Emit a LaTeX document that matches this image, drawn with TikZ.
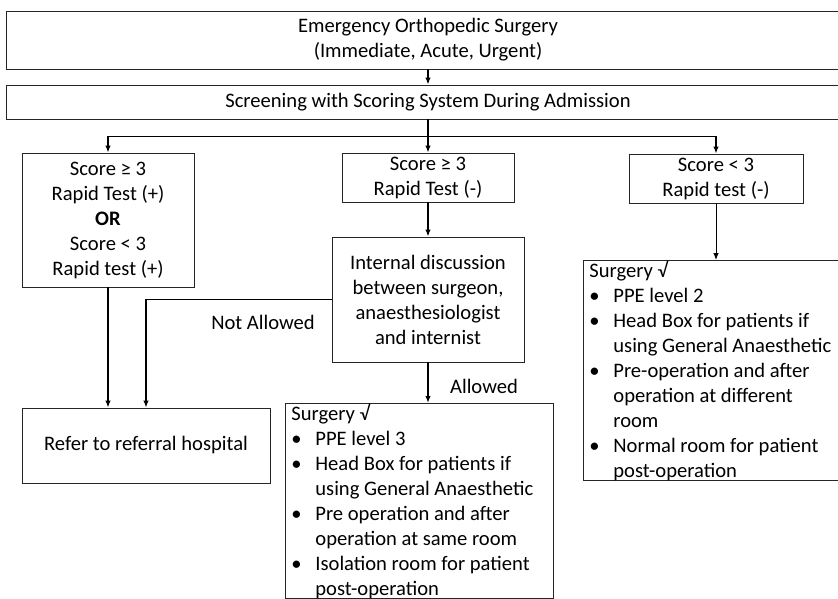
\documentclass[tikz,border=0pt]{standalone}
\usepackage{fontspec}
\setmainfont{Carlito}
\usetikzlibrary{positioning,arrows.meta}
\newcommand{\bul}{\makebox[24pt][l]{\textbullet}}
\newcommand{\ind}{\hspace*{24pt}}

\begin{document}
\begin{tikzpicture}[x=1pt,y=-1pt,
    txt/.style={font=\fontsize{20.6}{25}\selectfont},
    box/.style={txt,draw=black!85,line width=0.8pt,align=flush center,inner sep=0pt},
    listbox/.style={txt,draw=black!85,line width=0.8pt,align=flush left,anchor=north west,
      text width=256pt,inner xsep=6pt,inner ysep=0pt},
    conn/.style={line width=1.6pt,-{Latex[length=7pt,width=5.5pt]}},
    thinconn/.style={conn,line width=0.9pt}]
  \useasboundingbox (0,0) rectangle (838,599);
  \clip (0,0) rectangle (838,599);
  \node [box, minimum width=844pt, minimum height=58pt] (emerg) at (428,40)
    {Emergency Orthopedic Surgery\\(Immediate, Acute, Urgent)};
  \node [box, on grid, below=62pt of emerg, minimum width=844pt, minimum height=34pt] (screen)
    {Screening with Scoring System During Admission};
  \node [box, on grid, below=75.5pt of screen, minimum width=172pt, minimum height=49pt] (highneg)
    {Score ≥ 3\\Rapid Test (-)};
  \node [box, on grid, below left=118pt and 320pt of screen, minimum width=172pt, minimum height=134pt] (pos)
    {Score ≥ 3\\Rapid Test (+)\\\textbf{OR}\\Score < 3\\Rapid test (+)};
  \node [box, on grid, below right=76.5pt and 288pt of screen, minimum width=174pt, minimum height=49pt] (lowneg)
    {Score < 3\\Rapid test (-)};
  \node [box, on grid, below=122pt of highneg, minimum width=192pt, minimum height=125pt] (discuss)
    {Internal discussion\\between surgeon,\\anaesthesiologist\\and internist};
  \node [box, on grid, below right=225.5pt and 38pt of pos, minimum width=248pt, minimum height=75pt] (refer)
    {Refer to referral hospital};
  \node [listbox] (surgmid) at (285,403)
    {Surgery √\\
     \bul PPE level 3\\
     \bul Head Box for patients if\\
     \ind using General Anaesthetic\\
     \bul Pre operation and after\\
     \ind operation at same room\\
     \bul Isolation room for patient\\
     \ind post-operation};
  \node [listbox] (surgright) at (583,260)
    {Surgery √\\
     \bul PPE level 2\\
     \bul Head Box for patients if\\
     \ind using General Anaesthetic\\
     \bul Pre-operation and after\\
     \ind operation at different\\
     \ind room\\
     \bul Normal room for patient\\
     \ind post-operation};
  \node [txt, on grid, below left=22.5pt and 165pt of discuss] (notok) {Not Allowed};
  \node [txt, on grid, below right=87pt and 56pt of discuss] (ok) {Allowed};
  \coordinate [below=17pt of screen.south] (fork);
  \draw [conn] (emerg) -- (screen);
  \draw [conn] (screen.south) -- (fork) -| (pos.north);
  \draw [conn] (fork) -| (lowneg.north);
  \draw [conn] (fork) -- (highneg);
  \draw [conn] (highneg) -- (discuss);
  \draw [conn] (pos.south) -- (pos.south |- refer.north);
  \draw [conn] (discuss.west) -| (refer.north);
  \draw [conn] (discuss.south) -- (discuss.south |- surgmid.north);
  \draw [thinconn] (lowneg.south) -- (lowneg.south |- surgright.north);
\end{tikzpicture}
\end{document}
